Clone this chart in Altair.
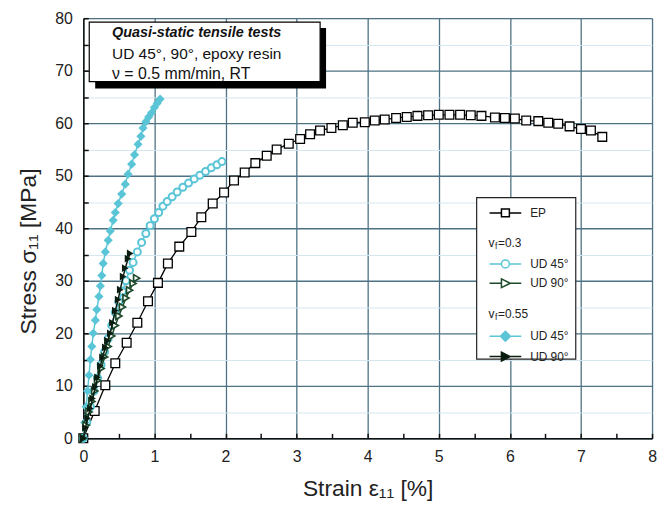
import altair as alt
import pandas as pd

# ---------------- data ----------------
ep_strain = [0, 0.16, 0.31, 0.45, 0.61, 0.76, 0.91, 1.05, 1.19, 1.35, 1.52, 1.66, 1.82, 1.98,
             2.12, 2.27, 2.42, 2.58, 2.72, 2.89, 3.05, 3.19, 3.33, 3.49, 3.65, 3.79, 3.96,
             4.10, 4.24, 4.40, 4.55, 4.70, 4.85, 5.00, 5.15, 5.30, 5.45, 5.60, 5.79, 5.93,
             6.07, 6.23, 6.40, 6.54, 6.68, 6.84, 7.00, 7.14, 7.30]
ep_stress = [0, 5.2, 10.1, 14.3, 18.2, 22.0, 26.1, 29.6, 33.3, 36.5, 39.3, 42.1, 44.7, 46.8,
             49.1, 50.6, 52.4, 53.8, 55.0, 56.1, 57.0, 57.9, 58.6, 59.1, 59.6, 60.1, 60.2,
             60.5, 60.7, 61.0, 61.2, 61.4, 61.5, 61.6, 61.6, 61.6, 61.5, 61.4, 61.1, 61.0,
             60.9, 60.5, 60.4, 60.1, 59.9, 59.4, 58.9, 58.6, 57.4]

ud45_03_strain = [0, 0.05, 0.10, 0.15, 0.20, 0.25, 0.30, 0.35, 0.40, 0.45, 0.50, 0.55, 0.60,
                  0.65, 0.70, 0.76, 0.82, 0.88, 0.94, 1.00, 1.06, 1.12, 1.18, 1.25, 1.32,
                  1.40, 1.48, 1.56, 1.64, 1.72, 1.80, 1.88, 1.95]
ud45_03_stress = [0, 3.0, 6.0, 9.0, 11.5, 14.0, 16.5, 19.0, 21.5, 24.0, 26.0, 28.0, 30.0,
                  32.0, 33.5, 35.5, 37.3, 39.0, 40.5, 41.8, 43.0, 44.2, 45.1, 46.0, 46.9,
                  47.8, 48.6, 49.4, 50.1, 50.8, 51.5, 52.1, 52.7]

ud90_03_strain = [0, 0.04, 0.08, 0.12, 0.16, 0.20, 0.25, 0.30, 0.35, 0.40, 0.45, 0.50,
                  0.55, 0.60, 0.65, 0.70, 0.75]
ud90_03_stress = [0, 2.5, 5.0, 7.0, 9.0, 11.0, 13.3, 15.5, 17.5, 19.5, 21.5, 23.3,
                  25.0, 26.7, 28.2, 29.5, 30.5]

ud45_055_strain = [0, 0.02, 0.04, 0.06, 0.08, 0.10, 0.12, 0.14, 0.17, 0.19, 0.22, 0.24,
                   0.26, 0.28, 0.31, 0.35, 0.38, 0.42, 0.45, 0.49, 0.54, 0.59, 0.63, 0.68,
                   0.72, 0.77, 0.81, 0.84, 0.88, 0.92, 0.96, 1.00, 1.04, 1.08]
ud45_055_stress = [0, 3.0, 6.0, 9.0, 12.0, 15.0, 17.5, 20.0, 22.5, 24.5, 27.0, 29.0,
                   31.0, 33.3, 35.5, 37.7, 39.5, 41.5, 43.0, 44.7, 46.5, 48.4, 50.3, 52.2,
                   54.0, 56.0, 57.5, 59.1, 60.3, 61.2, 62.0, 63.0, 63.8, 64.6]

ud90_055_strain = [0, 0.03, 0.06, 0.10, 0.13, 0.17, 0.20, 0.24, 0.27, 0.31, 0.34, 0.38,
                   0.41, 0.45, 0.49, 0.52, 0.56, 0.59, 0.63, 0.66]
ud90_055_stress = [0, 2.0, 3.8, 5.7, 7.6, 9.8, 11.6, 13.8, 15.4, 17.3, 18.6, 20.0,
                   22.0, 24.3, 26.4, 28.3, 30.8, 32.4, 34.2, 35.2]

x_tick_values = [i * 0.5 for i in range(17)]
y_tick_values = [i * 5 for i in range(17)]
legend_keys = ["EP", "b1", "b2", "UD45a", "UD90a", "b3", "b4", "UD45b", "UD90b"]

CYAN = "#5ac5d6"
DKGREEN = "#1d4a2a"
BLACK = "#000000"
DKBLACK = "#0b1c10"
FONT = "Liberation Sans"
MAJ = "#4d7283"
MIN = "#d3e7f1"

# ---------------- scales / axes ----------------
x_scale = alt.Scale(domain=[0, 8], nice=False)
y_scale = alt.Scale(domain=[0, 80], nice=False)

x_axis = alt.Axis(
    values=x_tick_values, format="d",
    labelExpr="datum.value % 1 === 0 ? datum.label : ''",
    labelOverlap=False, labelFlush=False,
    grid=True,
    gridColor={"condition": {"test": "datum.value % 1 === 0", "value": MAJ}, "value": MIN},
    gridWidth={"condition": {"test": "datum.value % 1 === 0", "value": 1.3}, "value": 1.0},
    ticks=False,
    labelPadding=10, labelFontSize=16, labelFont=FONT, labelColor="#222",
    titleFontSize=23, titleFont=FONT, titleFontWeight="normal", titleColor="#222", titlePadding=14,
    domainColor="#111", domainWidth=1.5,
)
y_axis = alt.Axis(
    values=y_tick_values, format="d",
    labelExpr="datum.value % 10 === 0 ? datum.label : ''",
    labelOverlap=False, labelFlush=False,
    grid=True,
    gridColor={"condition": {"test": "datum.value % 10 === 0", "value": MAJ}, "value": MIN},
    gridWidth={"condition": {"test": "datum.value % 10 === 0", "value": 1.3}, "value": 1.0},
    ticks=False,
    labelPadding=11, labelFontSize=16, labelFont=FONT, labelColor="#222",
    titleFontSize=23, titleFont=FONT, titleFontWeight="normal", titleColor="#222", titlePadding=14,
    titleY=235,
    domainColor="#111", domainWidth=1.5,
)

X = alt.X("strain:Q", scale=x_scale, axis=x_axis, title="Strain  ε₁₁  [%]")
Y = alt.Y("stress:Q", scale=y_scale, axis=y_axis, title="Stress  σ₁₁  [MPa]")


def series(xs, ys, color, shape, size, filled, lw=1.3, sw=1.3):
    d = pd.DataFrame({"strain": xs, "stress": ys})
    line = alt.Chart(d).mark_line(color=color, strokeWidth=lw).encode(x=X, y=Y)
    if filled:
        pts = alt.Chart(d).mark_point(shape=shape, size=size, filled=True, color=color,
                                      opacity=1).encode(x=X, y=Y)
    else:
        pts = alt.Chart(d).mark_point(shape=shape, size=size, filled=False, stroke=color,
                                      fill="white", fillOpacity=1, strokeWidth=sw,
                                      opacity=1).encode(x=X, y=Y)
    return [line, pts]


layers = []
layers += series(ep_strain, ep_stress, BLACK, "square", 78, False, lw=1.3, sw=1.3)
layers += series(ud45_03_strain, ud45_03_stress, CYAN, "circle", 50, False, lw=1.5, sw=2.0)
layers += series(ud45_055_strain, ud45_055_stress, CYAN, "diamond", 85, True, lw=1.5)
layers += series(ud90_03_strain, ud90_03_stress, DKGREEN, "triangle-right", 50, False, lw=1.5, sw=1.7)
layers += series(ud90_055_strain, ud90_055_stress, DKBLACK, "triangle-right", 60, True, lw=1.5)

one = pd.DataFrame({"a": [0]})

# annotation box (top-left)
shadow = alt.Chart(one).mark_rect(color="black").encode(
    x=alt.value(12), x2=alt.value(245), y=alt.value(10), y2=alt.value(71))
box = alt.Chart(one).mark_rect(fill="white", stroke="black", strokeWidth=1.2).encode(
    x=alt.value(6), x2=alt.value(239), y=alt.value(4), y2=alt.value(64))
t1 = alt.Chart(one).mark_text(text="Quasi-static tensile tests", font=FONT, fontSize=14.5,
                              fontWeight="bold", fontStyle="italic", align="left",
                              baseline="middle", color="#111").encode(
    x=alt.value(29), y=alt.value(15))
t2 = alt.Chart(one).mark_text(text="UD 45°, 90°, epoxy resin", font=FONT, fontSize=15.6,
                              align="left", baseline="middle", color="#111").encode(
    x=alt.value(29), y=alt.value(36))
t3 = alt.Chart(one).mark_text(text="ν = 0.5 mm/min, RT", font=FONT, fontSize=16,
                              align="left", baseline="middle", color="#111").encode(
    x=alt.value(29), y=alt.value(56))

# legend background and group headings
leg_bg = alt.Chart(one).mark_rect(fill="white", stroke="#222", strokeWidth=1.2).encode(
    x=alt.value(397), x2=alt.value(497), y=alt.value(181), y2=alt.value(344))
heads = []
for yy, txt in [(227, "=0.3"), (299, "=0.55")]:
    heads.append(alt.Chart(one).mark_text(text="v", font=FONT, fontSize=12, align="left",
                                          baseline="middle", color="#222").encode(
        x=alt.value(409), y=alt.value(yy)))
    heads.append(alt.Chart(one).mark_text(text="f", font=FONT, fontSize=8.5, align="left",
                                          baseline="middle", color="#222").encode(
        x=alt.value(415.5), y=alt.value(yy + 3)))
    heads.append(alt.Chart(one).mark_text(text=txt, font=FONT, fontSize=12, align="left",
                                          baseline="middle", color="#222").encode(
        x=alt.value(418.5), y=alt.value(yy)))

# legend (native), symbols include short line stubs
leg_df = pd.DataFrame({"key": legend_keys})
blank = "M0,0"
sq = "M-1,0H2M4,0H7M2,-1H4V1H2Z"
circ = "M-1,0H2M4,0H7M2,0A1,1 0 1,0 4,0A1,1 0 1,0 2,0Z"
diam = "M-1,0H7M3,-1.25L4.25,0L3,1.25L1.75,0Z"
tri_open = "M-1,0H2M4.2,0H7M2,-1.1L4.2,0L2,1.1Z"
tri_fill = "M-1,0H7M2,-1.1L4.2,0L2,1.1Z"
shape_range = [sq, blank, blank, circ, tri_open, blank, blank, diam, tri_fill]
stroke_range = [BLACK, "transparent", "transparent", CYAN, DKGREEN, "transparent", "transparent",
                CYAN, DKBLACK]
fill_range = ["white", "transparent", "transparent", "white", "white", "transparent",
              "transparent", CYAN, DKBLACK]
label_expr = ("datum.label == 'EP' ? 'EP' : (datum.label == 'UD45a' || datum.label == 'UD45b') ? "
              "'UD 45°' : (datum.label == 'UD90a' || datum.label == 'UD90b') ? 'UD 90°' : ''")
legend = alt.Legend(orient="none", legendX=408, legendY=190.5, title=None, labelExpr=label_expr,
                    symbolSize=64, labelOffset=31, rowPadding=4.5, labelFontSize=12,
                    labelFont=FONT, labelColor="#222", symbolStrokeWidth=1.5, padding=0,
                    symbolOpacity=1, labelLimit=120)
leg_layer = alt.Chart(leg_df).mark_point(opacity=0, size=64).encode(
    shape=alt.Shape("key:N", scale=alt.Scale(domain=legend_keys, range=shape_range), legend=legend),
    stroke=alt.Stroke("key:N", scale=alt.Scale(domain=legend_keys, range=stroke_range), legend=legend),
    fill=alt.Fill("key:N", scale=alt.Scale(domain=legend_keys, range=fill_range), legend=legend),
)

main = alt.layer(*layers, shadow, box, t1, t2, t3, leg_bg, *heads, leg_layer)

# inward tick marks: a second, label-less axis pair pushed 5px inside the frame
tick_df = pd.DataFrame({"strain": ep_strain, "stress": ep_stress})
tick_layer = alt.Chart(tick_df).mark_point(opacity=0).encode(
    x=alt.X("strain:Q", scale=x_scale, title=None,
            axis=alt.Axis(orient="bottom", values=x_tick_values, offset=-5, tickSize=5,
                          tickWidth=1.5, tickColor="#111", labels=False, domain=False,
                          grid=False, title=None)),
    y=alt.Y("stress:Q", scale=y_scale, title=None,
            axis=alt.Axis(orient="left", values=y_tick_values, offset=-5, tickSize=5,
                          tickWidth=1.5, tickColor="#111", labels=False, domain=False,
                          grid=False, title=None)),
)

chart = alt.layer(main, tick_layer).resolve_axis(x="independent", y="independent").properties(
    width=574, height=424,
    padding={"left": 10, "top": 0, "right": 0, "bottom": 0},
).configure_view(stroke="#111", strokeWidth=1.5).configure(background="white")

chart.save("out.html", embed_options={"renderer": "svg", "actions": False})
